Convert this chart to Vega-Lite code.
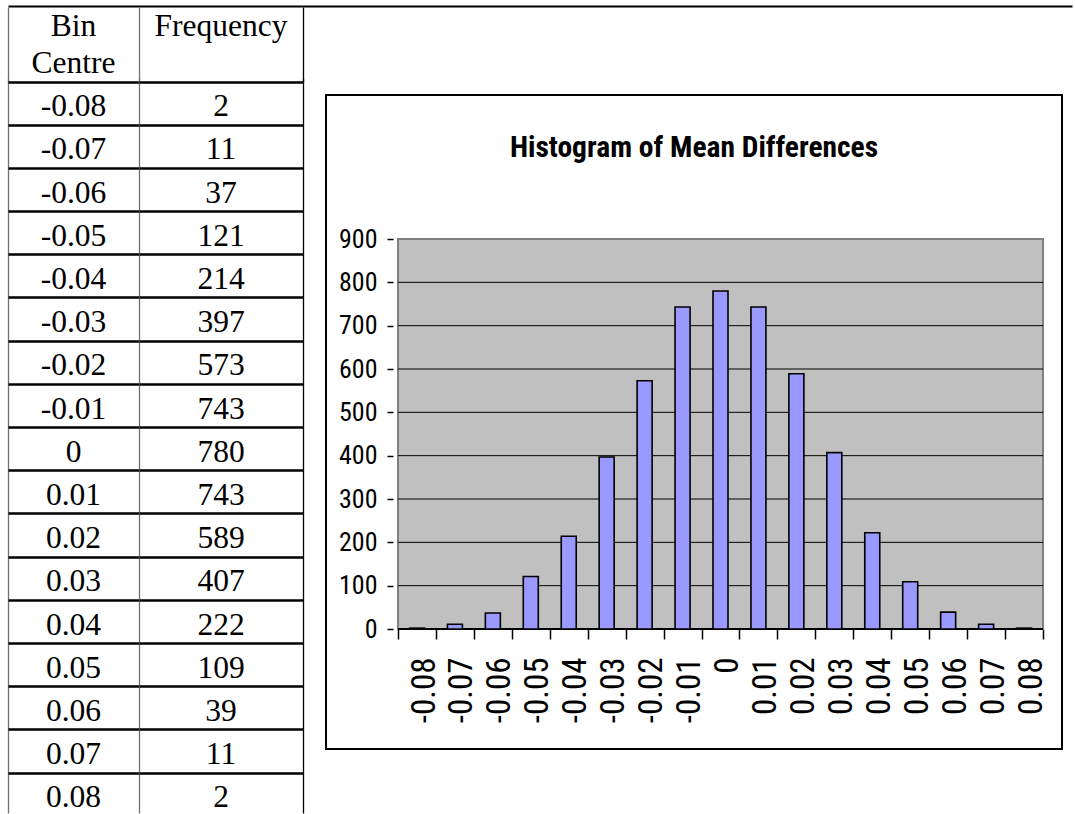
{
  "$schema": "https://vega.github.io/schema/vega-lite/v6.json",
  "padding": {"left": 8, "top": 6, "right": 0, "bottom": 0},
  "background": "white",
  "config": {"view": {"stroke": null}, "axis": {"labelColor": "black", "tickColor": "black"}},
  "datasets": {
    "freq": [
      {"bin": -0.08, "freq": 2}, {"bin": -0.07, "freq": 11}, {"bin": -0.06, "freq": 37},
      {"bin": -0.05, "freq": 121}, {"bin": -0.04, "freq": 214}, {"bin": -0.03, "freq": 397},
      {"bin": -0.02, "freq": 573}, {"bin": -0.01, "freq": 743}, {"bin": 0, "freq": 780},
      {"bin": 0.01, "freq": 743}, {"bin": 0.02, "freq": 589}, {"bin": 0.03, "freq": 407},
      {"bin": 0.04, "freq": 222}, {"bin": 0.05, "freq": 109}, {"bin": 0.06, "freq": 39},
      {"bin": 0.07, "freq": 11}, {"bin": 0.08, "freq": 2}
    ],
    "grid": [{"g": 100}, {"g": 200}, {"g": 300}, {"g": 400}, {"g": 500}, {"g": 600}, {"g": 700}, {"g": 800}]
  },
  "spacing": 0,
  "vconcat": [
    {
      "width": 1064, "height": 1,
      "data": {"values": []},
      "mark": "point",
      "encoding": {
        "x": {"field": "x", "type": "quantitative", "scale": {"domain": [0, 1]},
          "axis": {"orient": "top", "domain": true, "domainColor": "black", "domainWidth": 2.2, "ticks": false, "labels": false, "grid": false, "title": null, "minExtent": 0, "maxExtent": 0}}
      }
    },
    {
      "spacing": 22,
      "hconcat": [
        {
          "spacing": 0,
          "hconcat": [
            {
              "spacing": 0,
              "vconcat": [
                {
                  "width": 131, "height": 75,
                  "data": {"values": [{}]},
                  "mark": {"type": "text", "text": ["Bin", "Centre"], "font": "Liberation Serif", "fontSize": 31.5, "baseline": "alphabetic", "lineHeight": 36.5, "dy": -8.3, "color": "black"},
                  "encoding": {
                    "x": {"datum": 0.5, "type": "quantitative", "scale": {"domain": [0, 1]},
                      "axis": {"values": [0], "grid": true, "gridColor": "#707070", "gridWidth": 1.3, "domain": false, "ticks": false, "labels": false, "title": null, "minExtent": 0, "maxExtent": 0}}
                  }
                },
                {
                  "width": 131, "height": 731,
                  "data": {"name": "freq"},
                  "mark": {"type": "text", "font": "Liberation Serif", "fontSize": 31.5, "baseline": "alphabetic", "dy": 12.5, "color": "black"},
                  "encoding": {
                    "x": {"datum": 0.5, "type": "quantitative", "scale": {"domain": [0, 1]},
                      "axis": {"values": [0], "grid": true, "gridColor": "#707070", "gridWidth": 1.3, "domain": false, "ticks": false, "labels": false, "title": null, "minExtent": 0, "maxExtent": 0}},
                    "y": {"field": "bin", "type": "nominal", "sort": null,
                      "scale": {"type": "band", "range": [0, 734.4], "paddingInner": 0, "paddingOuter": 0},
                      "axis": {"grid": true, "bandPosition": 0, "gridColor": "black", "gridWidth": 2.5, "domain": false, "ticks": false, "labels": false, "title": null, "minExtent": 0, "maxExtent": 0}},
                    "text": {"field": "bin", "type": "nominal"}
                  }
                }
              ]
            },
            {
              "spacing": 0,
              "vconcat": [
                {
                  "width": 164, "height": 75,
                  "data": {"values": [{}]},
                  "mark": {"type": "text", "text": "Frequency", "font": "Liberation Serif", "fontSize": 31.5, "baseline": "alphabetic", "dy": -8.3, "color": "black"},
                  "encoding": {
                    "x": {"datum": 0.5, "type": "quantitative", "scale": {"domain": [0, 1]},
                      "axis": {"values": [0, 1], "grid": true, "gridColor": {"condition": {"test": "datum.value === 1", "value": "black"}, "value": "#707070"}, "gridWidth": 1.3, "domain": false, "ticks": false, "labels": false, "title": null, "minExtent": 0, "maxExtent": 0}}
                  }
                },
                {
                  "width": 164, "height": 731,
                  "data": {"name": "freq"},
                  "mark": {"type": "text", "font": "Liberation Serif", "fontSize": 31.5, "baseline": "alphabetic", "dy": 12.5, "color": "black"},
                  "encoding": {
                    "x": {"datum": 0.5, "type": "quantitative", "scale": {"domain": [0, 1]},
                      "axis": {"values": [0, 1], "grid": true, "gridColor": {"condition": {"test": "datum.value === 1", "value": "black"}, "value": "#707070"}, "gridWidth": 1.3, "domain": false, "ticks": false, "labels": false, "title": null, "minExtent": 0, "maxExtent": 0}},
                    "y": {"field": "bin", "type": "nominal", "sort": null,
                      "scale": {"type": "band", "range": [0, 734.4], "paddingInner": 0, "paddingOuter": 0},
                      "axis": {"grid": true, "bandPosition": 0, "gridColor": "black", "gridWidth": 2.5, "domain": false, "ticks": false, "labels": false, "title": null, "minExtent": 0, "maxExtent": 0}},
                    "text": {"field": "freq", "type": "nominal"}
                  }
                }
              ]
            }
          ]
        },
        {
          "spacing": 0,
          "vconcat": [
            {
              "width": 736, "height": 87,
              "data": {"values": []},
              "mark": "point"
            },
            {
              "width": 736, "height": 654,
              "view": {"stroke": "black", "strokeWidth": 2, "fill": "white"},
              "title": {"text": "Histogram of Mean Differences", "font": "Roboto Condensed, sans-serif", "fontSize": 29.5, "fontWeight": "bold", "color": "black", "anchor": "middle", "frame": "group", "offset": -91, "baseline": "alphabetic"},
              "layer": [
                {
                  "data": {"values": [{}]},
                  "mark": {"type": "rect", "fill": "#C0C0C0", "stroke": "#808080", "strokeWidth": 2},
                  "encoding": {
                    "x": {"datum": -0.085, "type": "quantitative", "scale": {"domain": [-0.085, 0.085], "range": [67, 722], "nice": false, "zero": false},
                      "axis": {"orient": "bottom", "offset": -120, "values": [-0.085, -0.075, -0.065, -0.055, -0.045, -0.035, -0.025, -0.015, -0.005, 0.005, 0.015, 0.025, 0.035, 0.045, 0.055, 0.065, 0.075, 0.085],
                        "labelExpr": "datum.value > 0.08 ? '' : toString(round((datum.value + 0.005) * 100) / 100)",
                        "grid": false, "domain": false, "ticks": true, "tickSize": 10, "tickColor": "black", "tickWidth": 1.5,
                        "labelAngle": 270, "labelAlign": "right", "labelBaseline": "middle", "labelPadding": 18, "labelOffset": 26,
                        "labelFont": "Roboto Condensed, sans-serif", "labelFontSize": 33, "labelColor": "black",
                        "labelOverlap": false, "labelFlush": false, "labelBound": false, "title": null}},
                    "x2": {"datum": 0.085},
                    "y": {"datum": 0, "type": "quantitative", "scale": {"domain": [0, 900], "range": [534, 144], "nice": false},
                      "axis": {"orient": "left", "offset": -67, "values": [0, 100, 200, 300, 400, 500, 600, 700, 800, 900],
                        "grid": false, "domain": false, "ticks": true, "tickSize": 6, "tickColor": "black", "tickWidth": 1.5,
                        "labelPadding": 10, "labelFont": "Roboto Condensed, sans-serif", "labelFontSize": 26, "labelColor": "black",
                        "labelOverlap": false, "labelFlush": false, "title": null}},
                    "y2": {"datum": 900}
                  }
                },
                {
                  "data": {"name": "grid"},
                  "mark": {"type": "rule", "color": "black", "strokeWidth": 1},
                  "encoding": {
                    "y": {"field": "g", "type": "quantitative", "scale": {"domain": [0, 900], "range": [534, 144], "nice": false},
                      "axis": {"orient": "left", "offset": -67, "values": [0, 100, 200, 300, 400, 500, 600, 700, 800, 900],
                        "grid": false, "domain": false, "ticks": true, "tickSize": 6, "tickColor": "black", "tickWidth": 1.5,
                        "labelPadding": 10, "labelFont": "Roboto Condensed, sans-serif", "labelFontSize": 26, "labelColor": "black",
                        "labelOverlap": false, "labelFlush": false, "title": null}},
                    "x": {"datum": -0.085, "type": "quantitative", "scale": {"domain": [-0.085, 0.085], "range": [67, 722], "nice": false, "zero": false},
                      "axis": {"orient": "bottom", "offset": -120, "values": [-0.085, -0.075, -0.065, -0.055, -0.045, -0.035, -0.025, -0.015, -0.005, 0.005, 0.015, 0.025, 0.035, 0.045, 0.055, 0.065, 0.075, 0.085],
                        "labelExpr": "datum.value > 0.08 ? '' : toString(round((datum.value + 0.005) * 100) / 100)",
                        "grid": false, "domain": false, "ticks": true, "tickSize": 10, "tickColor": "black", "tickWidth": 1.5,
                        "labelAngle": 270, "labelAlign": "right", "labelBaseline": "middle", "labelPadding": 18, "labelOffset": 26,
                        "labelFont": "Roboto Condensed, sans-serif", "labelFontSize": 33, "labelColor": "black",
                        "labelOverlap": false, "labelFlush": false, "labelBound": false, "title": null}},
                    "x2": {"datum": 0.085}
                  }
                },
                {
                  "data": {"values": [{}]},
                  "mark": {"type": "rule", "color": "black", "strokeWidth": 2},
                  "encoding": {
                    "y": {"datum": 0, "type": "quantitative", "scale": {"domain": [0, 900], "range": [534, 144], "nice": false},
                      "axis": {"orient": "left", "offset": -67, "values": [0, 100, 200, 300, 400, 500, 600, 700, 800, 900],
                        "grid": false, "domain": false, "ticks": true, "tickSize": 6, "tickColor": "black", "tickWidth": 1.5,
                        "labelPadding": 10, "labelFont": "Roboto Condensed, sans-serif", "labelFontSize": 26, "labelColor": "black",
                        "labelOverlap": false, "labelFlush": false, "title": null}},
                    "x": {"datum": -0.085, "type": "quantitative", "scale": {"domain": [-0.085, 0.085], "range": [67, 722], "nice": false, "zero": false},
                      "axis": {"orient": "bottom", "offset": -120, "values": [-0.085, -0.075, -0.065, -0.055, -0.045, -0.035, -0.025, -0.015, -0.005, 0.005, 0.015, 0.025, 0.035, 0.045, 0.055, 0.065, 0.075, 0.085],
                        "labelExpr": "datum.value > 0.08 ? '' : toString(round((datum.value + 0.005) * 100) / 100)",
                        "grid": false, "domain": false, "ticks": true, "tickSize": 10, "tickColor": "black", "tickWidth": 1.5,
                        "labelAngle": 270, "labelAlign": "right", "labelBaseline": "middle", "labelPadding": 18, "labelOffset": 26,
                        "labelFont": "Roboto Condensed, sans-serif", "labelFontSize": 33, "labelColor": "black",
                        "labelOverlap": false, "labelFlush": false, "labelBound": false, "title": null}},
                    "x2": {"datum": 0.085}
                  }
                },
                {
                  "data": {"name": "freq"},
                  "mark": {"type": "bar", "orient": "vertical", "width": 15, "fill": "#9999FF", "stroke": "black", "strokeWidth": 1.6},
                  "encoding": {
                    "x": {"field": "bin", "type": "quantitative",
                      "scale": {"domain": [-0.085, 0.085], "range": [67, 722], "nice": false, "zero": false},
                      "axis": {"orient": "bottom", "offset": -120, "values": [-0.085, -0.075, -0.065, -0.055, -0.045, -0.035, -0.025, -0.015, -0.005, 0.005, 0.015, 0.025, 0.035, 0.045, 0.055, 0.065, 0.075, 0.085],
                        "labelExpr": "datum.value > 0.08 ? '' : toString(round((datum.value + 0.005) * 100) / 100)",
                        "grid": false, "domain": false, "ticks": true, "tickSize": 10, "tickColor": "black", "tickWidth": 1.5,
                        "labelAngle": 270, "labelAlign": "right", "labelBaseline": "middle", "labelPadding": 18, "labelOffset": 26,
                        "labelFont": "Roboto Condensed, sans-serif", "labelFontSize": 33, "labelColor": "black",
                        "labelOverlap": false, "labelFlush": false, "labelBound": false, "title": null}},
                    "y": {"field": "freq", "type": "quantitative",
                      "scale": {"domain": [0, 900], "range": [534, 144], "nice": false},
                      "axis": {"orient": "left", "offset": -67, "values": [0, 100, 200, 300, 400, 500, 600, 700, 800, 900],
                        "grid": false, "domain": false, "ticks": true, "tickSize": 6, "tickColor": "black", "tickWidth": 1.5,
                        "labelPadding": 10, "labelFont": "Roboto Condensed, sans-serif", "labelFontSize": 26, "labelColor": "black",
                        "labelOverlap": false, "labelFlush": false, "title": null}}
                  }
                }
              ]
            }
          ]
        }
      ]
    }
  ]
}
